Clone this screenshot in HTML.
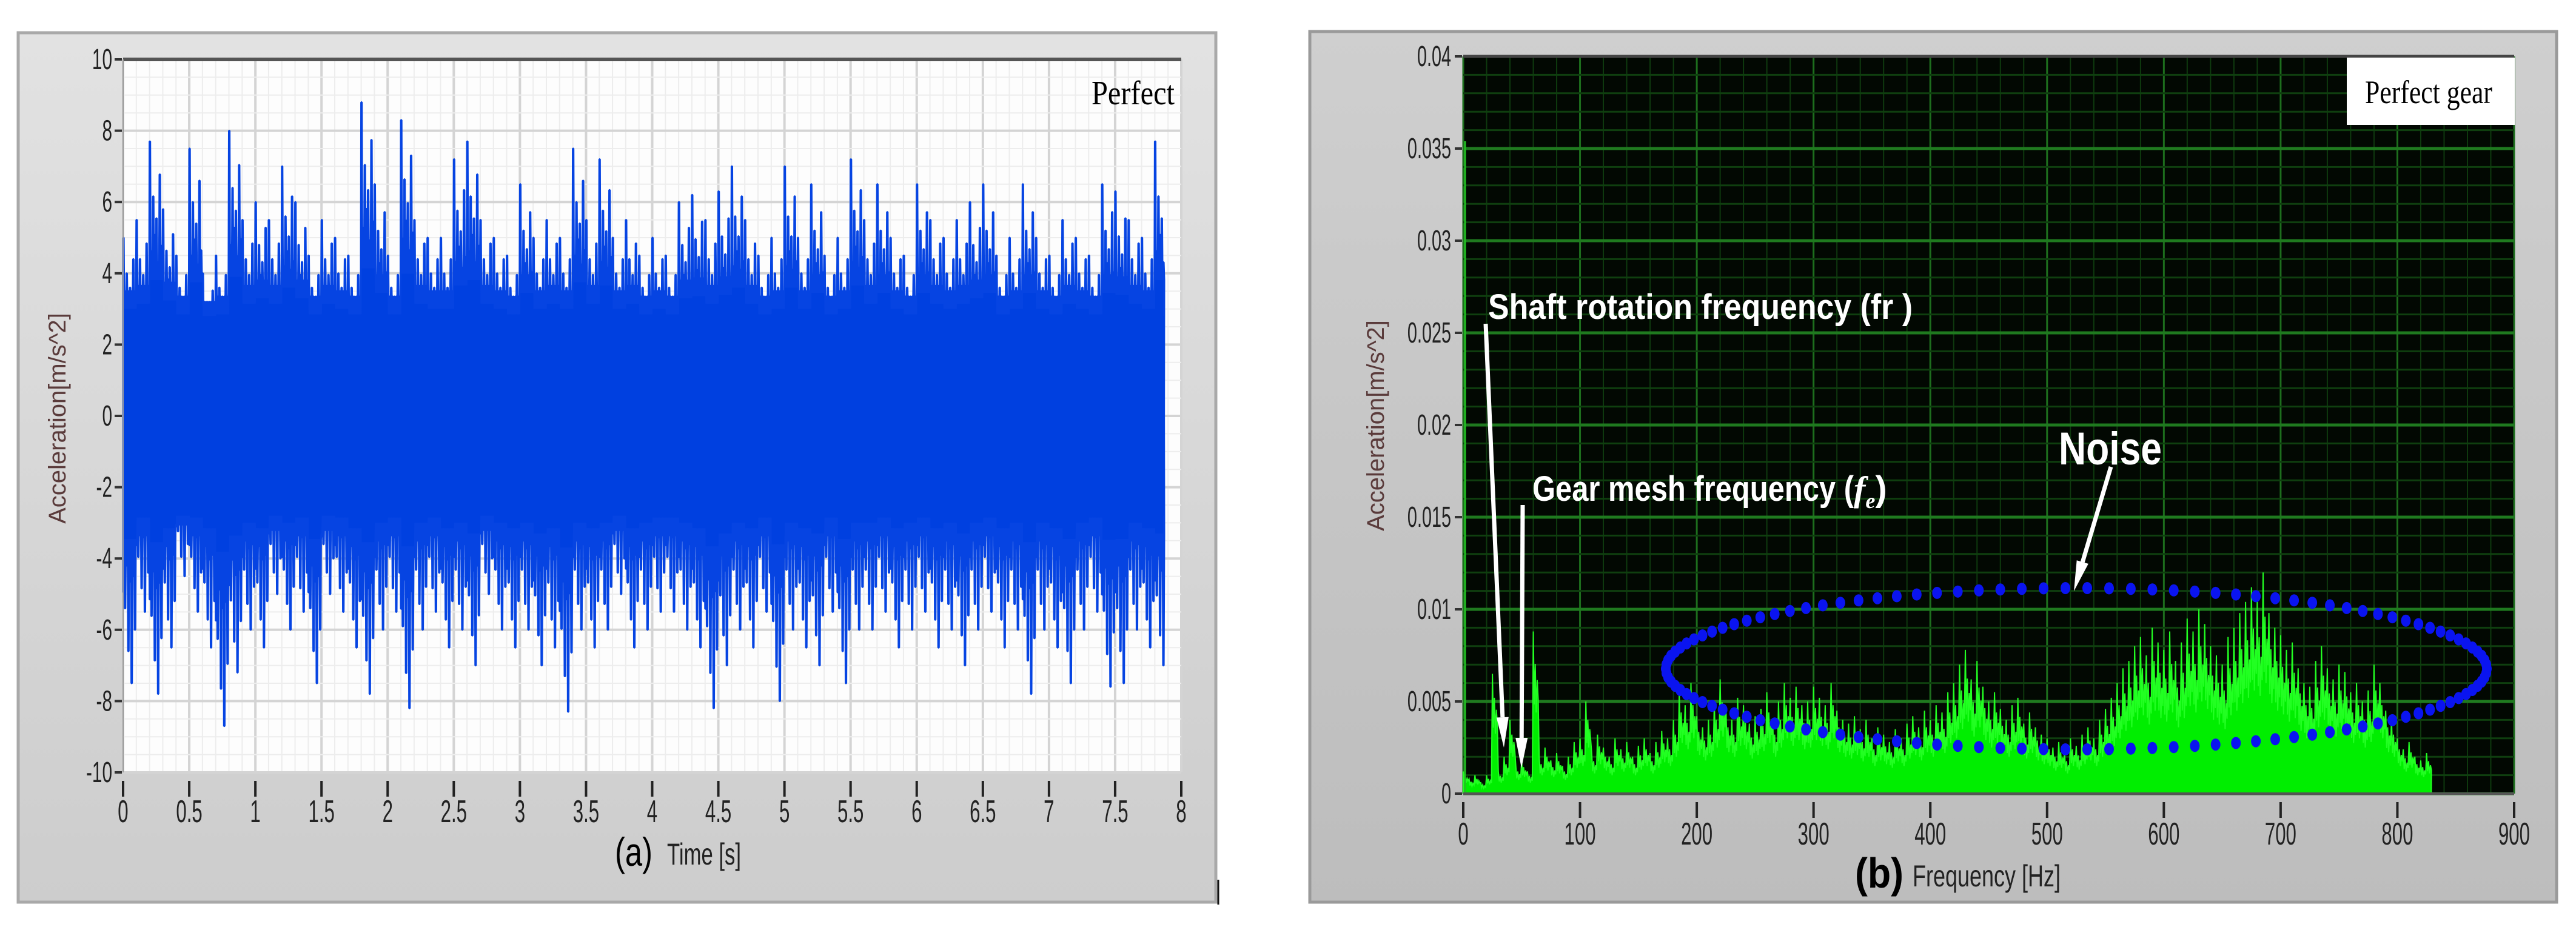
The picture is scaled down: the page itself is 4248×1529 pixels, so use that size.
<!DOCTYPE html>
<html><head><meta charset="utf-8"><style>
html,body{margin:0;padding:0;background:#fff;width:4248px;height:1529px;overflow:hidden}
</style></head><body>
<svg id="fig" width="4248" height="1529" xmlns="http://www.w3.org/2000/svg" font-family="Liberation Sans, sans-serif">
<defs>
<linearGradient id="gl" x1="0" y1="0" x2="0" y2="1"><stop offset="0" stop-color="#e2e2e2"/><stop offset="1" stop-color="#cdcdcd"/></linearGradient>
<linearGradient id="gr" x1="0" y1="0" x2="0" y2="1"><stop offset="0" stop-color="#cfcfcf"/><stop offset="1" stop-color="#bdbdbd"/></linearGradient>
</defs>
<rect x="30" y="54" width="1975" height="1434" fill="url(#gl)" stroke="#a9a9a9" stroke-width="5"/>
<rect x="2160" y="52" width="2056" height="1436" fill="url(#gr)" stroke="#9a9a9a" stroke-width="5"/>
<line x1="2009" y1="1451" x2="2009" y2="1492" stroke="#111" stroke-width="3"/>
<g id="pa"></g>
<g id="pb"></g>
</svg>
<script>
// ---- Chart (a) data ----
const timeBins=[0,0.1,0.2,0.3,0.4,0.5,0.6,0.7,0.8,0.9,1.0,1.1,1.2,1.3,1.4,1.5,1.6,1.7,1.8,1.9,2.0,2.1,2.2,2.3,2.4,2.5,2.6,2.7,2.8,2.9,3.0,3.1,3.2,3.3,3.4,3.5,3.6,3.7,3.8,3.9,4.0,4.1,4.2,4.3,4.4,4.5,4.6,4.7,4.8,4.9,5.0,5.1,5.2,5.3,5.4,5.5,5.6,5.7,5.8,5.9,6.0,6.1,6.2,6.3,6.4,6.5,6.6,6.7,6.8,6.9,7.0,7.1,7.2,7.3,7.4,7.5,7.6,7.7,7.8];
const upperPeaks=[5.0,5.5,7.7,5.8,4.5,7.5,4.0,4.5,8.0,5.5,6.0,5.5,7.0,6.0,4.5,5.5,5.0,4.5,8.8,6.5,4.5,8.3,5.5,5.0,5.0,7.2,7.7,5.5,5.0,4.5,6.5,5.0,5.5,5.0,7.5,5.5,7.2,5.0,5.5,4.5,5.0,4.5,6.0,6.2,5.5,6.3,7.0,5.5,4.5,5.0,7.0,5.0,6.5,4.5,5.0,7.2,5.5,6.5,5.0,4.5,6.5,5.5,5.0,5.5,6.0,6.5,4.5,5.0,6.5,5.0,4.5,5.5,5.0,4.5,6.5,6.3,5.5,5.0,7.7];
const lowerPeaks=[-7.5,-5.5,-7.8,-6.5,-4.5,-5.5,-6.5,-8.7,-7.2,-6.0,-6.5,-5.0,-6.0,-5.5,-7.5,-5.0,-5.5,-6.5,-7.8,-6.0,-5.5,-8.2,-6.0,-5.5,-6.5,-6.0,-7.0,-5.0,-6.0,-6.5,-6.0,-7.0,-6.5,-8.3,-6.0,-6.5,-6.0,-5.0,-6.5,-6.0,-5.5,-5.5,-6.0,-6.5,-8.2,-7.0,-6.0,-6.5,-5.5,-8.0,-6.0,-6.5,-7.0,-5.5,-7.5,-6.0,-6.0,-5.5,-6.5,-6.0,-5.5,-6.5,-6.0,-7.0,-6.0,-5.5,-6.5,-6.0,-7.8,-6.0,-6.5,-7.5,-6.0,-5.5,-7.6,-7.5,-6.0,-6.5,-7.0];
const timeTicks=["0","0.5","1","1.5","2","2.5","3","3.5","4","4.5","5","5.5","6","6.5","7","7.5","8"];
const accTicks=["10","8","6","4","2","0","-2","-4","-6","-8","-10"];
// ---- Chart (b) data ----
const freqStep=5;
const spectrumPeaks=[0.0012,0.0008,0.0010,0.0006,0.0010,0.0065,0.0012,0.0020,0.0040,0.0015,0.0018,0.0012,0.0088,0.0020,0.0025,0.0018,0.0022,0.0015,0.0020,0.0028,
0.0030,0.0050,0.0022,0.0032,0.0025,0.0020,0.0030,0.0024,0.0028,0.0020,0.0026,0.0030,0.0022,0.0028,0.0034,0.0030,0.0040,0.0055,0.0048,0.0060,
0.0042,0.0036,0.0040,0.0050,0.0062,0.0045,0.0040,0.0052,0.0048,0.0038,0.0042,0.0046,0.0055,0.0040,0.0050,0.0060,0.0052,0.0058,0.0048,0.0050,
0.0058,0.0052,0.0048,0.0060,0.0045,0.0040,0.0038,0.0042,0.0035,0.0040,0.0030,0.0036,0.0032,0.0028,0.0035,0.0030,0.0038,0.0042,0.0036,0.0045,
0.0040,0.0048,0.0044,0.0055,0.0060,0.0070,0.0078,0.0062,0.0072,0.0058,0.0050,0.0055,0.0046,0.0040,0.0048,0.0052,0.0038,0.0044,0.0036,0.0032,
0.0030,0.0025,0.0028,0.0022,0.0030,0.0026,0.0032,0.0036,0.0030,0.0040,0.0046,0.0052,0.0060,0.0068,0.0072,0.0080,0.0085,0.0075,0.0090,0.0082,
0.0078,0.0088,0.0072,0.0082,0.0095,0.0088,0.0100,0.0092,0.0080,0.0075,0.0070,0.0085,0.0090,0.0098,0.0104,0.0112,0.0106,0.0120,0.0098,0.0090,
0.0086,0.0078,0.0082,0.0068,0.0060,0.0058,0.0072,0.0080,0.0068,0.0062,0.0070,0.0066,0.0055,0.0060,0.0050,0.0056,0.0070,0.0060,0.0045,0.0040,
0.0030,0.0024,0.0028,0.0020,0.0018,0.0022];
const freqTicks=["0","100","200","300","400","500","600","700","800","900"];
const ampTicks=["0.04","0.035","0.03","0.025","0.02","0.015","0.01","0.005","0"];

const NS="http://www.w3.org/2000/svg";
function mk(parent,tag,attrs,text){const e=document.createElementNS(NS,tag);for(const k in attrs)e.setAttribute(k,attrs[k]);if(text!==undefined)e.textContent=text;parent.appendChild(e);return e;}
function sx(x,s){return `translate(${x},0) scale(${s},1) translate(${-x},0)`;}

// ===== Chart A =====
(function(){
const g=document.getElementById('pa');
const L=203,R=1948,T=98,B=1274;
const xs=t=>L+(t/8)*(R-L), ys=v=>T+(10-v)/20*(B-T);
const bg=mk(g,'rect',{x:L,y:T,width:R-L,height:B-T,fill:'#fdfdfd'});


for(let i=0;i<=80;i++){const x=xs(i*0.1);const maj=i%5===0;
 mk(g,'line',{x1:x,y1:T,x2:x,y2:B,stroke:maj?'#d4d4d4':'#ededed','stroke-width':maj?4:2});}
for(let i=0;i<=40;i++){const y=ys(10-i*0.5);const maj=i%4===0;
 mk(g,'line',{x1:L,y1:y,x2:R,y2:y,stroke:maj?'#d4d4d4':'#ededed','stroke-width':maj?4:2});}
const n=Math.min(timeBins.length,upperPeaks.length,lowerPeaks.length);
const tEnd=timeBins[n-1]+0.07;
const mult=[1,0.6,0.8,0.66,0.72,0.56,0.88,0.62];
let up='M'+xs(0)+','+ys(0), lo='M'+xs(0)+','+ys(0);
for(let i=0;i<n;i++){
 const base=3.0+0.3*(upperPeaks[i]-5);
 const lbase=-3.0+0.3*(lowerPeaks[i]+6);
 for(let k=0;k<mult.length;k++){
  const t=timeBins[i]+k*0.0125; if(t>tEnd)break;
  const vu=Math.max(base+0.5,upperPeaks[i]*mult[k]);
  const vl=Math.min(lbase-0.5,lowerPeaks[i]*mult[(k+3)%mult.length]);
  up+=' L'+xs(t).toFixed(1)+','+ys(vu).toFixed(1)+' L'+xs(t+0.005).toFixed(1)+','+ys(vu).toFixed(1)+' L'+xs(t+0.009).toFixed(1)+','+ys(base).toFixed(1);
  lo+=' L'+xs(t).toFixed(1)+','+ys(vl).toFixed(1)+' L'+xs(t+0.005).toFixed(1)+','+ys(vl).toFixed(1)+' L'+xs(t+0.009).toFixed(1)+','+ys(lbase).toFixed(1);
 }
}
up+=' L'+xs(tEnd)+','+ys(0)+' Z'; lo+=' L'+xs(tEnd)+','+ys(0)+' Z';
const pu=mk(g,'path',{d:up,fill:'#0040e0',stroke:'#0644e2','stroke-width':3,'stroke-linejoin':'bevel'});


const pl=mk(g,'path',{d:lo,fill:'#0040e0',stroke:'#0644e2','stroke-width':3,'stroke-linejoin':'bevel'});


const band=mk(g,'rect',{x:xs(0),y:ys(2.8),width:xs(tEnd)-xs(0),height:ys(-2.8)-ys(2.8),fill:'#0040e0'});


mk(g,'line',{x1:L,y1:T,x2:R,y2:T,stroke:'#555','stroke-width':6});
mk(g,'line',{x1:L,y1:T,x2:L,y2:B,stroke:'#999','stroke-width':2});
accTicks.forEach((s,i)=>{const y=ys(10-i*2);
 mk(g,'line',{x1:L-14,y1:y,x2:L-2,y2:y,stroke:'#333','stroke-width':4});
 const t=mk(g,'text',{x:L-18,y:y+16,'text-anchor':'end','font-size':48,fill:'#222',transform:sx(L-18,0.62)},s);
 
 });
timeTicks.forEach((s,i)=>{const x=xs(i*0.5);
 mk(g,'line',{x1:x,y1:B+14,x2:x,y2:B+40,stroke:'#222','stroke-width':4});
 const t=mk(g,'text',{x:x,y:B+82,'text-anchor':'middle','font-size':52,fill:'#222',transform:sx(x,0.6)},s);
 
 });
const yl=mk(g,'text',{x:0,y:0,'text-anchor':'middle','font-size':40,fill:'#5a3b3b',transform:'translate(108,690) rotate(-90)'},'Acceleration[m/s^2]');


const pa=mk(g,'text',{x:1014,y:1428,'font-size':66,fill:'#000',textLength:62,lengthAdjust:'spacingAndGlyphs'},'(a)');


const xt=mk(g,'text',{x:1100,y:1426,'font-size':50,fill:'#222',textLength:122,lengthAdjust:'spacingAndGlyphs'},'Time [s]');


const lg=mk(g,'text',{x:1800,y:172,'font-size':56,fill:'#000',style:'font-family:"Liberation Serif",serif',textLength:137,lengthAdjust:'spacingAndGlyphs'},'Perfect');


})();

// ===== Chart B =====
(function(){
const g=document.getElementById('pb');
const L=2413,R=4146,T=93,B=1309;
const xs=f=>L+f/900*(R-L), ys=v=>B-v/0.04*(B-T);
const bg=mk(g,'rect',{x:L,y:T,width:R-L,height:B-T,fill:'#020802'});


for(let i=0;i<=45;i++){const x=xs(i*20);const maj=i%5===0;
 mk(g,'line',{x1:x,y1:T,x2:x,y2:B,stroke:maj?'#1d6e1d':'#0e3a0e','stroke-width':maj?3:2});}
for(let i=0;i<=40;i++){const y=ys(i*0.001);const maj=i%5===0;
 mk(g,'line',{x1:L,y1:y,x2:R,y2:y,stroke:maj?'#1f7a1f':'#0f3f0f','stroke-width':maj?5:3});}
let d='M'+xs(0).toFixed(1)+','+ys(0).toFixed(1);
const sub=[1,0.55,0.8,0.5,0.7,0.58];
spectrumPeaks.forEach((v,i)=>{
 const f0=i*freqStep;
 sub.forEach((m,k)=>{const f=f0+k*freqStep/sub.length;
  d+=' L'+xs(f).toFixed(1)+','+ys(v*m).toFixed(1);});
});
const fEnd=(spectrumPeaks.length-1)*freqStep+freqStep*0.8;
d+=' L'+xs(fEnd).toFixed(1)+','+ys(0).toFixed(1)+' Z';
const sp=mk(g,'path',{d:d,fill:'#00ee00',stroke:'#22ff22','stroke-width':2});


mk(g,'line',{x1:L+3,y1:T+140,x2:L+3,y2:B,stroke:'#22c022','stroke-width':3});
mk(g,'line',{x1:L,y1:T,x2:R,y2:T,stroke:'#444','stroke-width':5});
mk(g,'line',{x1:L,y1:B,x2:R,y2:B,stroke:'#555','stroke-width':4});
ampTicks.forEach((s,i)=>{const y=ys(0.04-i*0.005);
 mk(g,'line',{x1:L-14,y1:y,x2:L-2,y2:y,stroke:'#333','stroke-width':4});
 const t=mk(g,'text',{x:L-20,y:y+16,'text-anchor':'end','font-size':48,fill:'#222',transform:sx(L-20,0.6)},s);
 
 });
freqTicks.forEach((s,i)=>{const x=xs(i*100);
 mk(g,'line',{x1:x,y1:B+14,x2:x,y2:B+40,stroke:'#222','stroke-width':4});
 const t=mk(g,'text',{x:x,y:B+84,'text-anchor':'middle','font-size':52,fill:'#222',transform:sx(x,0.6)},s);
 
 });
const yl=mk(g,'text',{x:0,y:0,'text-anchor':'middle','font-size':40,fill:'#5a3b3b',transform:'translate(2282,702) rotate(-90)'},'Acceleration[m/s^2]');


const pb=mk(g,'text',{x:3059,y:1464,'font-size':70,'font-weight':'bold',fill:'#000',textLength:80,lengthAdjust:'spacingAndGlyphs'},'(b)');


const xt=mk(g,'text',{x:3154,y:1462,'font-size':50,fill:'#222',textLength:244,lengthAdjust:'spacingAndGlyphs'},'Frequency [Hz]');


const box=mk(g,'rect',{x:3870,y:95,width:277,height:111,fill:'#fff'});


const lg=mk(g,'text',{x:3900,y:170,'font-size':54,fill:'#000',style:'font-family:"Liberation Serif",serif',textLength:210,lengthAdjust:'spacingAndGlyphs'},'Perfect gear');


const a1=mk(g,'text',{x:2454,y:526,'font-size':58,'font-weight':'bold',fill:'#fff',textLength:700,lengthAdjust:'spacingAndGlyphs'},'Shaft rotation frequency (fr )');


const a2=mk(g,'text',{x:2527,y:826,'font-size':58,'font-weight':'bold',fill:'#fff'});


a2.innerHTML='<tspan textLength="530" lengthAdjust="spacingAndGlyphs">Gear mesh frequency (</tspan><tspan font-style="italic" style="font-family:\'Liberation Serif\',serif">f</tspan><tspan font-size="36" dy="12" font-style="italic" style="font-family:\'Liberation Serif\',serif">e</tspan><tspan dy="-12">)</tspan>';
const a3=mk(g,'text',{x:3395,y:766,'font-size':76,'font-weight':'bold',fill:'#fff',textLength:170,lengthAdjust:'spacingAndGlyphs'},'Noise');


function arrow(name,x1,y1,x2,y2){
 const ag=mk(g,'g',{});
 
 
 const dx=x2-x1,dy=y2-y1,len=Math.hypot(dx,dy),ux=dx/len,uy=dy/len;
 const hx=x2-ux*50,hy=y2-uy*50;
 mk(ag,'line',{x1:x1,y1:y1,x2:hx,y2:hy,stroke:'#fff','stroke-width':7});
 mk(ag,'polygon',{points:`${x2},${y2} ${hx-uy*10},${hy+ux*10} ${hx+uy*10},${hy-ux*10}`,fill:'#fff'});
}
arrow('shaft-arrow',2450,534,2480,1233);
arrow('gear-mesh-arrow',2511,833,2509,1267);
arrow('noise-arrow',3481,770,3420,975);
const cx=3424,cy=1103,rx=677,ry=133;
const eg=mk(g,'g',{});


const N=118;
for(let i=0;i<N;i++){const a=i/N*2*Math.PI;
 mk(eg,'ellipse',{cx:(cx+rx*Math.cos(a)).toFixed(1),cy:(cy+ry*Math.sin(a)).toFixed(1),rx:8,ry:10,fill:'#0a14f0'});}
})();
</script>
</body></html>
